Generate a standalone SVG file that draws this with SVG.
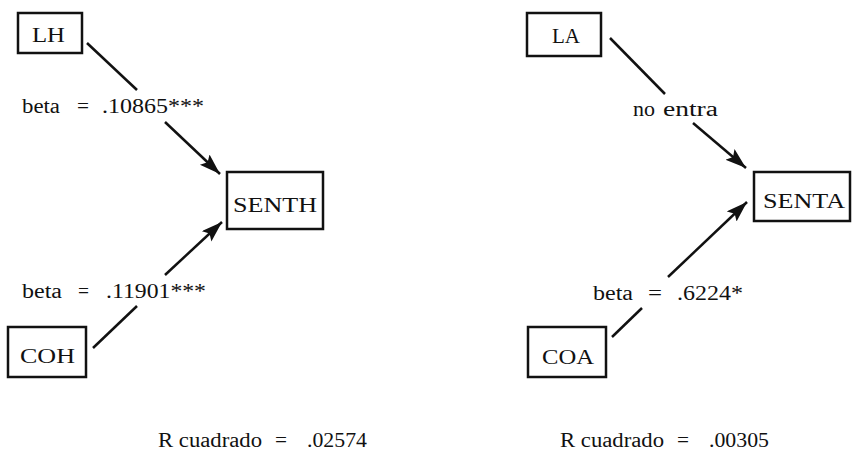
<svg xmlns="http://www.w3.org/2000/svg" width="852" height="458" viewBox="0 0 852 458">
<style>
.box{fill:#fff;stroke:#111;stroke-width:2.5}
.t{font-family:"Liberation Serif",serif;font-size:20px;fill:#111}
.lbl{font-family:"Liberation Serif",serif;font-size:20px;fill:#111}
.c{stroke:#111;stroke-width:2.5;fill:none}
</style>
<defs>
<marker id="ah" markerUnits="userSpaceOnUse" markerWidth="22" markerHeight="16" refX="21" refY="7" orient="auto">
<path d="M0,0 L21,7 L0,14 L4,7 z" fill="#111"/>
</marker>
</defs>
<rect width="852" height="458" fill="#fff"/>
<g id="connectors">
<line class="c" x1="87" y1="43" x2="137" y2="90"/>
<line class="c" x1="165" y1="122" x2="220" y2="174" marker-end="url(#ah)"/>
<line class="c" x1="93" y1="348" x2="137" y2="306"/>
<line class="c" x1="165" y1="275" x2="222" y2="222" marker-end="url(#ah)"/>
<line class="c" x1="610" y1="38" x2="665" y2="94"/>
<line class="c" x1="693" y1="123" x2="746" y2="168" marker-end="url(#ah)"/>
<line class="c" x1="612" y1="337" x2="642" y2="308"/>
<line class="c" x1="668" y1="277" x2="747" y2="202" marker-end="url(#ah)"/>
</g>
<g id="labels" class="lbl">
<text x="22" y="113" textLength="38" lengthAdjust="spacingAndGlyphs">beta</text>
<text x="77" y="113" textLength="12" lengthAdjust="spacingAndGlyphs">=</text>
<text x="102" y="113" textLength="102" lengthAdjust="spacingAndGlyphs">.10865***</text>

<text x="22" y="298" textLength="40" lengthAdjust="spacingAndGlyphs">beta</text>
<text x="78" y="298" textLength="11" lengthAdjust="spacingAndGlyphs">=</text>
<text x="106" y="298" textLength="100" lengthAdjust="spacingAndGlyphs">.11901***</text>

<text x="633" y="116" textLength="22" lengthAdjust="spacingAndGlyphs">no</text>
<text x="663" y="116" textLength="55" lengthAdjust="spacingAndGlyphs">entra</text>

<text x="593" y="300" textLength="40" lengthAdjust="spacingAndGlyphs">beta</text>
<text x="648" y="300" textLength="14" lengthAdjust="spacingAndGlyphs">=</text>
<text x="677" y="300" textLength="66" lengthAdjust="spacingAndGlyphs">.6224*</text>

<text x="158" y="447" textLength="104" lengthAdjust="spacingAndGlyphs">R cuadrado</text>
<text x="275" y="447" textLength="12" lengthAdjust="spacingAndGlyphs">=</text>
<text x="307" y="447" textLength="60" lengthAdjust="spacingAndGlyphs">.02574</text>

<text x="560" y="447" textLength="104" lengthAdjust="spacingAndGlyphs">R cuadrado</text>
<text x="677" y="447" textLength="12" lengthAdjust="spacingAndGlyphs">=</text>
<text x="709" y="447" textLength="60" lengthAdjust="spacingAndGlyphs">.00305</text>
</g>
<g id="LH">
<rect class="box" x="18" y="13" width="64" height="40"/>
<text class="t" x="32" y="42" textLength="33" lengthAdjust="spacingAndGlyphs">LH</text>
</g>
<g id="SENTH">
<rect class="box" x="227" y="172" width="96" height="57"/>
<text class="t" x="233" y="212" textLength="84" lengthAdjust="spacingAndGlyphs">SENTH</text>
</g>
<g id="COH">
<rect class="box" x="8" y="327" width="78" height="50"/>
<text class="t" x="20" y="363" textLength="55" lengthAdjust="spacingAndGlyphs">COH</text>
</g>
<g id="LA">
<rect class="box" x="527" y="13" width="74" height="43"/>
<text class="t" x="552" y="43" textLength="28" lengthAdjust="spacingAndGlyphs">LA</text>
</g>
<g id="SENTA">
<rect class="box" x="754" y="172" width="96" height="49"/>
<text class="t" x="763" y="208" textLength="82" lengthAdjust="spacingAndGlyphs">SENTA</text>
</g>
<g id="COA">
<rect class="box" x="528" y="327" width="78" height="50"/>
<text class="t" x="542" y="364" textLength="52" lengthAdjust="spacingAndGlyphs">COA</text>
</g>
</svg>
